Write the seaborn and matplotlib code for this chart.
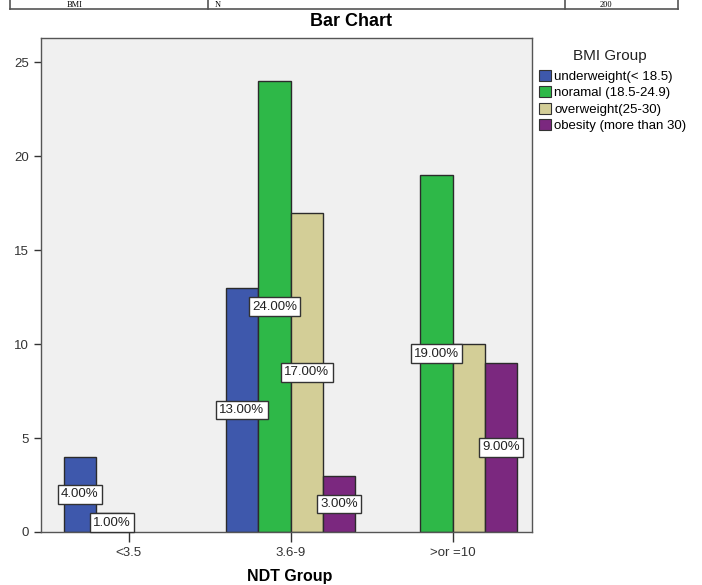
import numpy as np
import pandas as pd
import matplotlib
matplotlib.use("Agg")
import matplotlib.pyplot as plt
import seaborn as sns
from matplotlib.patches import Patch
from matplotlib.lines import Line2D

ndt_groups = ["<3.5", "3.6-9", ">or =10"]
bmi_groups = ["underweight(< 18.5)", "noramal (18.5-24.9)", "overweight(25-30)", "obesity (more than 30)"]
underweight = [4, 13, 0]
normal = [1, 24, 19]
overweight = [0, 17, 10]
obesity = [0, 3, 9]
# labels shown in the reference (the 10.00% one is hidden there)
show_label = [[True, True, False], [True, True, True], [False, True, False], [False, True, True]]
bar_colors = ["#3E58AC", "#2EB848", "#D3CE97", "#7B287F"]

counts = [underweight, normal, overweight, obesity]
rows = []
for g, vals in zip(bmi_groups, counts):
    for cat, v in zip(ndt_groups, vals):
        rows.append({"NDT Group": cat, "BMI Group": g, "Count": v})
df = pd.DataFrame(rows)
df_plot = df[df["Count"] > 0]
total = df["Count"].sum()

plt.rcParams["font.family"] = ["Liberation Sans", "DejaVu Sans"]

fig = plt.figure(figsize=(7.02, 5.85), dpi=100)
ax = fig.add_axes([41 / 702, 1 - 532 / 585, 491 / 702, 494 / 585])
ax.set_facecolor("#F0F0F0")

sns.barplot(data=df_plot, x="NDT Group", y="Count", hue="BMI Group",
            order=ndt_groups, hue_order=bmi_groups, palette=bar_colors, saturation=1,
            width=0.8, edgecolor="#2b2b2b", linewidth=1.0, ax=ax, legend=False)

ax.set_xlim(-0.54, 2.49)
ax.set_ylim(0, 26.3)
ax.set_yticks([0, 5, 10, 15, 20, 25])
ax.set_xlabel("")
ax.set_ylabel("")
ax.tick_params(axis="both", labelsize=9.5, colors="#333333", length=5, width=1)
ax.tick_params(axis="x", length=7)
for s in ax.spines.values():
    s.set_color("#555555")
    s.set_linewidth(1.0)

# percent labels at mid-height of each bar
n = len(bmi_groups)
w = 0.8 / n
for hi, vals in enumerate(counts):
    for ci, v in enumerate(vals):
        if not show_label[hi][ci]:
            continue
        xc = ci - 0.4 + w * (hi + 0.5)
        ax.text(xc, v / 2, f"{v / total * 100:.2f}%", ha="center", va="center",
                fontsize=9.5, color="#222222", zorder=5,
                bbox=dict(boxstyle="square,pad=0.25", facecolor="white", edgecolor="#333333", linewidth=1.0))

fig.text(0.5, 1 - 22 / 585, "Bar Chart", ha="center", va="center", fontsize=13, fontweight="bold")
fig.text(290 / 702, 1 - 577 / 585, "NDT Group", ha="center", va="center", fontsize=11.5, fontweight="bold")

# legend, title placed separately to match the gap in the reference
fig.text(610 / 702, 1 - 56 / 585, "BMI Group", ha="center", va="center", fontsize=11, color="#222222")
handles = [Patch(facecolor=c, edgecolor="#333333", linewidth=0.8) for c in bar_colors]
leg = fig.legend(handles, bmi_groups, loc="upper left",
                 bbox_to_anchor=(539 / 702, 1 - 70 / 585), frameon=False,
                 fontsize=9.5, handlelength=0.9, handleheight=0.9,
                 handletextpad=0.25, labelspacing=0.25, borderaxespad=0, borderpad=0)

# fragment of the table above the chart
tcol = "#555555"
fig.add_artist(Line2D([10 / 702, 678 / 702], [1 - 9 / 585] * 2, color=tcol, lw=1.2))
for xv in [10, 208, 565, 678]:
    fig.add_artist(Line2D([xv / 702] * 2, [1 - 9 / 585, 1.0], color=tcol, lw=1.2))
for xv, t in [(75, "BMI"), (218, "N"), (606, "200")]:
    fig.text(xv / 702, 1 - 5 / 585, t, ha="center", va="center", fontsize=6,
             family=["Liberation Serif", "DejaVu Serif"])

fig.savefig("out.png", dpi=100)
